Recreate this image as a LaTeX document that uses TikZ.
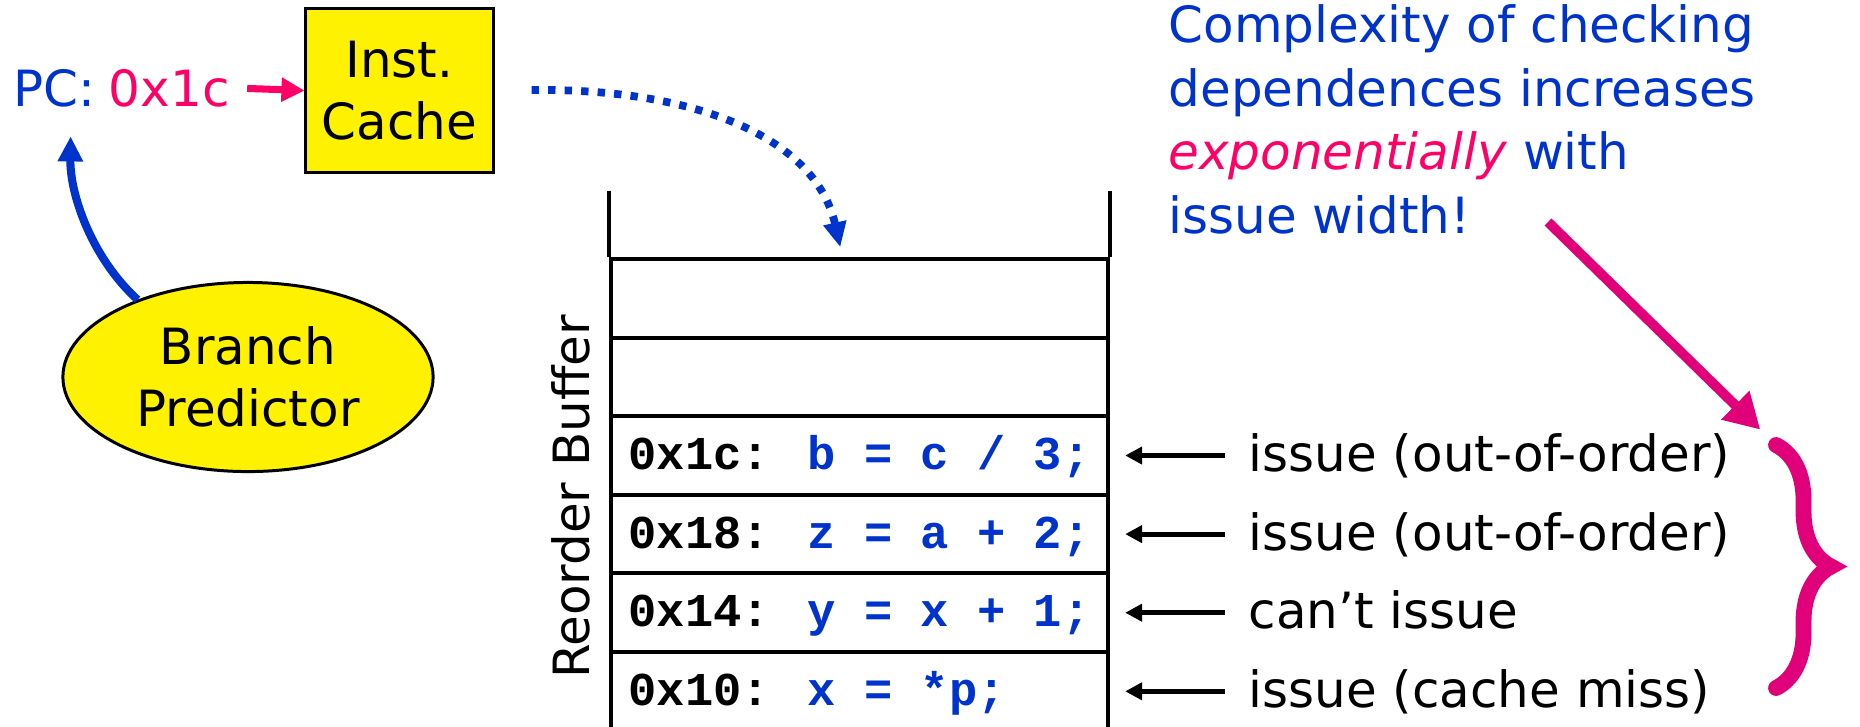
\documentclass[tikz,border=0pt]{standalone}
\usepackage{fontspec}
\setmainfont{DejaVu Sans}
\newfontfamily\codefont{Liberation Mono}
\usetikzlibrary{arrows.meta,positioning,shapes.geometric,decorations.pathreplacing}
\definecolor{pcblue}{HTML}{0033CC}
\definecolor{hotpink}{HTML}{FF0066}
\definecolor{brmagenta}{HTML}{E0007A}

\begin{document}
\begin{tikzpicture}[x=0.01cm, y=-0.01cm,
  txt/.style={font=\fontsize{14.2}{17.8}\selectfont, inner sep=0pt},
  unit/.style={txt, draw, line width=0.85pt, fill=yellow, align=center},
  slot/.style={draw, line width=1.14pt, minimum width=4.97cm, minimum height=0.786cm, inner sep=0pt},
  code/.style={font=\codefont\bfseries\fontsize{13.4}{15}\selectfont, inner sep=0pt, anchor=base west},
  pcarr/.style={-{Triangle[length=0.23cm, width=0.23cm]}, line width=2pt, hotpink},
  bparr/.style={-{Triangle[length=0.25cm, width=0.24cm]}, line width=2.3pt, pcblue},
  fetcharr/.style={-{Triangle[length=0.25cm, width=0.22cm]}, line width=2.2pt, pcblue, dash pattern=on 2.1pt off 2.6pt},
  issuearr/.style={-{Triangle[length=0.17cm, width=0.17cm]}, line width=1.4pt, shorten <=0.23cm, shorten >=0.15cm},
  hintarr/.style={-{Triangle[length=0.35cm, width=0.38cm]}, line width=2.8pt, brmagenta}
]
  \useasboundingbox (0,0) rectangle (1860,726);

  % fetch side
  \node[txt, text=pcblue, anchor=base west] (pc) at (13,106) {PC:};
  \node[txt, text=hotpink, anchor=base west] (pcval) at ([xshift=0.12cm]pc.base east) {0x1c};
  \node[unit, minimum width=1.87cm, minimum height=1.63cm] (cache) at (399.5,90.5) {Inst.\\Cache};
  \node[unit, ellipse, minimum width=3.7cm, minimum height=1.89cm] (bp) at (248,377) {Branch\\Predictor};
  \coordinate (pctip) at ([shift={(16,29)}]pc.south);

  \draw[pcarr, shorten <=0.17cm] (pcval.east) -- (cache.west);
  \draw[bparr] (bp.145) .. controls (92,258) and (70,195) .. (pctip);

  % reorder buffer, slot 0 at the bottom
  \foreach \i in {0,...,5}
    \node[slot] (s\i) at (859.5,{691.3-78.6*\i}) {};
  \draw[line width=1.14pt] (s5.north west) -- ++(0,-66);
  \draw[line width=1.14pt] (s5.north east) -- ++(0,-66);
  \node[txt, rotate=90, anchor=south] (roblabel) at (591,497) {Reorder Buffer};

  \draw[fetcharr, shorten <=0.37cm, shorten >=0.1cm] (cache.east) .. controls (690,88) and (815,135) .. ([xshift=-0.17cm]s5.north);

  \foreach \i/\a/\c in {0/0x10:/{x = *p;}, 1/0x14:/{y = x + 1;}, 2/0x18:/{z = a + 2;}, 3/0x1c:/{b = c / 3;}}
    \node[code] (c\i) at ([shift={(19,14)}]s\i.west) {\a{} \textcolor{pcblue}{\c}};

  % issue status of each entry
  \foreach \i/\t in {0/{issue (cache miss)}, 1/{can't issue}, 2/{issue (out-of-order)}, 3/{issue (out-of-order)}}
    \node[txt, anchor=base west] (iss\i) at ([shift={(138,16)}]s\i.east) {\t};
  \foreach \i in {0,...,3}
    \draw[issuearr] (iss\i.west |- s\i.east) -- (s\i.east);

  % note and brace
  \node[txt, text=pcblue, anchor=north west, align=left, font=\fontsize{14.2}{18.07}\selectfont] (note) at (1168,4)
    {Complexity of checking\\dependences increases\\\textcolor{hotpink}{\textit{exponentially}} with\\issue width!};
  \coordinate (notetail) at (1548,222);
  \coordinate (brtop) at (1776,445);
  \coordinate (brbot) at (1776,688);
  \draw[brmagenta, line width=4.5pt, line cap=round, decorate, decoration={brace, amplitude=0.55cm}] (brtop) -- (brbot);
  \draw[hintarr, shorten >=0.22cm] (notetail) -- (brtop);
\end{tikzpicture}
\end{document}
